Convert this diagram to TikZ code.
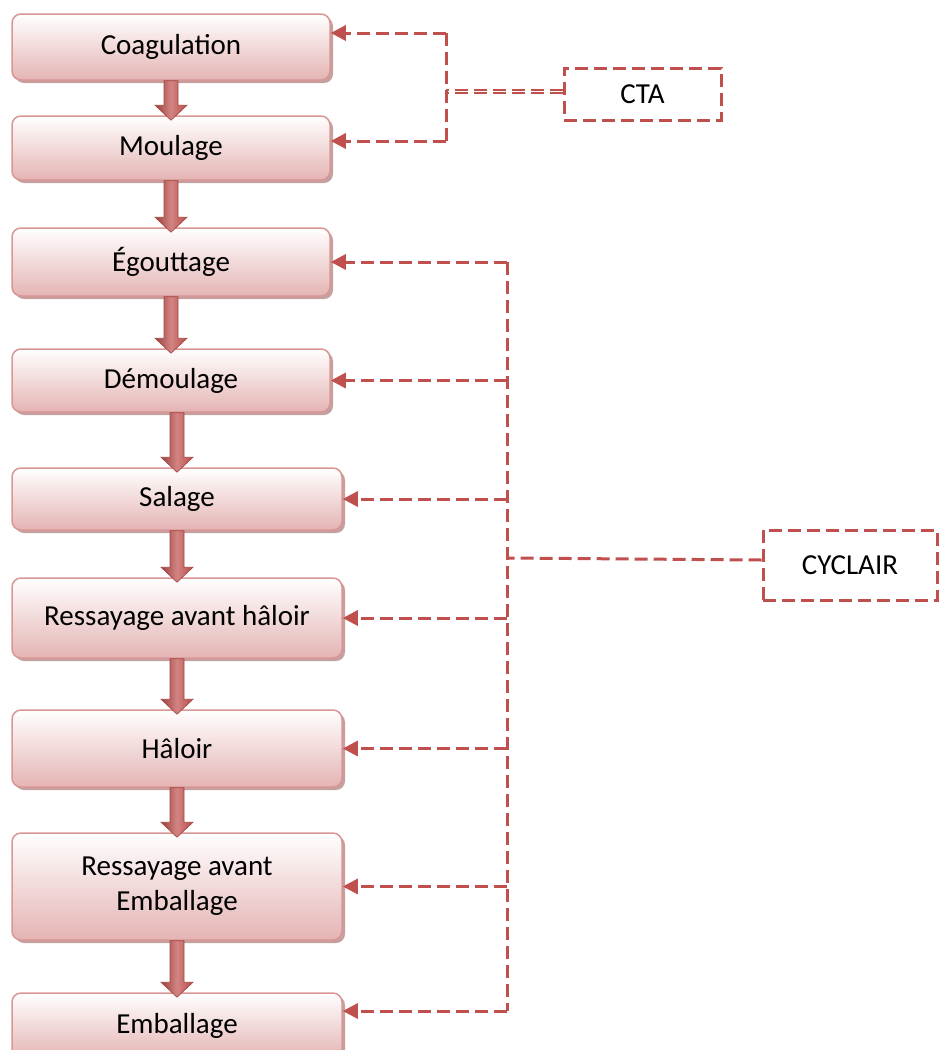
\documentclass[tikz,border=0pt]{standalone}
\usepackage{fontspec}
\setmainfont{Carlito}
\usetikzlibrary{arrows.meta,shadows,calc}
\definecolor{accent}{RGB}{192,80,77}
\definecolor{boxline}{RGB}{217,150,148}
\definecolor{boxfill}{RGB}{228,180,179}
\definecolor{shadowred}{RGB}{190,150,150}
\tikzset{%
  % Specifications for style of nodes:
        base/.style = {rectangle, rounded corners=9pt, align=center,
                       font=\fontsize{29}{35}\selectfont},
     process/.style = {base, draw=boxline, line width=1.5pt,
                       top color=white, bottom color=boxfill,
                       drop shadow={shadow xshift=3pt, shadow yshift=-3pt,
                                    fill=shadowred, opacity=0.9}},
      source/.style = {base, rounded corners=0pt, draw=accent, line width=3pt,
                       dash pattern=on 13pt off 6pt, fill=white},
    feedline/.style = {draw=accent, line width=3pt, dash pattern=on 13pt off 6pt},
        feed/.style = {feedline, -{Triangle[length=15pt, width=15pt]}},
  blockarrow/.style = {draw=accent!85!black, line width=0.6pt,
                       left color=accent!80!black, right color=accent!95!black,
                       middle color=accent!70!white},
}

\begin{document}
\begin{tikzpicture}[x=1pt, y=-1pt]
  \useasboundingbox (0,0) rectangle (946,1050);
  % Process steps
  \node (coag) [process, minimum width=318pt, minimum height=66pt]  at (171,47)    {Coagulation};
  \node (moul) [process, minimum width=318pt, minimum height=64pt]  at (171,148)   {Moulage};
  \node (egou) [process, minimum width=318pt, minimum height=68pt]  at (171,262)   {Égouttage};
  \node (demo) [process, minimum width=318pt, minimum height=63pt]  at (171,380.5) {Démoulage};
  \node (sala) [process, minimum width=330pt, minimum height=62pt]  at (177,499)   {Salage};
  \node (ress) [process, minimum width=330pt, minimum height=80pt]  at (177,618)   {Ressayage avant hâloir};
  \node (halo) [process, minimum width=330pt, minimum height=77pt]  at (177,748.5) {Hâloir};
  \node (rese) [process, minimum width=330pt, minimum height=107pt] at (177,886.5) {Ressayage avant\\Emballage};
  \node (emba) [process, minimum width=330pt, minimum height=66pt]  at (177,1026)  {Emballage};

  % Air sources
  \node (cta)     [source, minimum width=157pt, minimum height=52pt] at (642.5,94) {CTA};
  \node (cyclair) [source, minimum width=174pt, minimum height=70pt] at (850,565)  {CYCLAIR};

  % Flow between steps
  \foreach \a/\b in {coag/moul, moul/egou, egou/demo, demo/sala,
                     sala/ress, ress/halo, halo/rese, rese/emba}
    \path[blockarrow] let \p1=(\a.south), \p2=(\b.north) in
      (\x2-7pt,\y1) -- (\x2+7pt,\y1) -- (\x2+7pt,\y2+10pt) -- (\x2+16pt,\y2+10pt)
      -- (\x2,\y2-5pt) -- (\x2-16pt,\y2+10pt) -- (\x2-7pt,\y2+10pt) -- cycle;

  % CTA feed
  \coordinate (ctajoin) at (446,91);
  \coordinate (ctatop) at ([yshift=14pt]coag.east -| ctajoin);
  \coordinate (ctabot) at ([yshift=7pt]moul.east -| ctajoin);
  \draw[draw=accent, line width=2pt, double=white, double distance=1pt,
        dash pattern=on 13pt off 6pt] ([yshift=3pt]cta.west) -- (ctajoin);
  \draw[feedline] (ctatop) -- (ctabot);
  \draw[feed] (ctatop) -- ([yshift=14pt]coag.east);
  \draw[feed] (ctabot) -- ([yshift=7pt]moul.east);

  % CYCLAIR feed
  \coordinate (cyjoin) at (507,558);
  \coordinate (cytop) at (egou.east -| cyjoin);
  \coordinate (cybot) at ([yshift=15pt]emba.east -| cyjoin);
  \draw[feedline] ([yshift=5pt]cyclair.west) -- (cyjoin);
  \draw[feedline] (cytop) -- (cybot);
  \foreach \n in {egou, demo, sala, ress, halo, rese}
    \draw[feed] (\n.east -| cyjoin) -- (\n.east);
  \draw[feed] (cybot) -- ([yshift=15pt]emba.east);
\end{tikzpicture}
\end{document}
